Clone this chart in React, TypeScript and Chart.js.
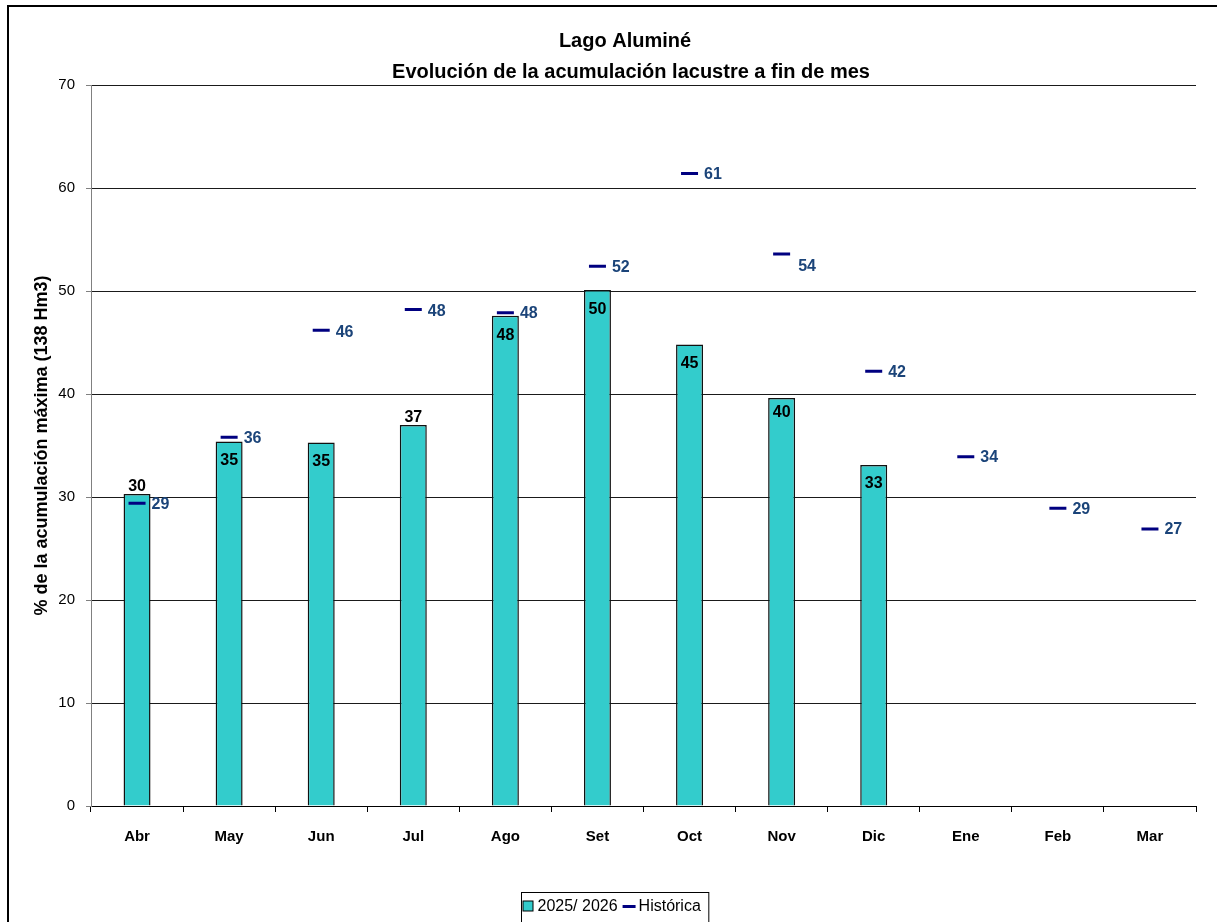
import React, { useEffect, useRef } from "react";
import { Chart, registerables } from "chart.js";

Chart.register(...registerables);

// ---- data ----
const categories = ["Abr", "May", "Jun", "Jul", "Ago", "Set", "Oct", "Nov", "Dic", "Ene", "Feb", "Mar"];
const actual2025 = [30.3, 35.4, 35.3, 37.0, 47.6, 50.1, 44.8, 39.6, 33.1, null, null, null];
const historica = [29.4, 35.8, 46.2, 48.2, 47.9, 52.4, 61.4, 53.6, 42.2, 33.9, 28.9, 26.9];
const yTicks = [0, 10, 20, 30, 40, 50, 60, 70];
const titleLines = ["Lago Aluminé", "Evolución de la acumulación lacustre a fin de mes"];
const yAxisTitle = "% de la acumulación máxima (138 Hm3)";
const seriesNames = ["2025/ 2026", "Histórica"];

// ---- label placement (styling) ----
const barLabelAbove = [true, false, false, true, false, false, false, false, false, false, false, false];
const barLabelInsideOffset = [19, 19, 19, 19, 20, 20, 19, 14, 19, 19, 19, 19];
const histLabelDx = [6, 6, 6, 6, 6, 6, 6, 8, 6, 6, 6, 6];
const histLabelDy = [1, 1, 2, 2, 1, 1, 1, 13, 1, 1, 1, 1];

const FONT = "'Liberation Sans', Arial, sans-serif";
const BAR_COLOR = "#33CCCC";
const HIST_COLOR = "#000080";
const HIST_LABEL_COLOR = "#1b4479";

const decorPlugin = {
  id: "decor",
  beforeDraw(chart: any) {
    const ctx = chart.ctx;
    ctx.save();
    ctx.fillStyle = "#ffffff";
    ctx.fillRect(0, 0, chart.width, chart.height);
    // outer frame (left + top visible)
    ctx.strokeStyle = "#000";
    ctx.lineWidth = 2;
    ctx.beginPath();
    ctx.moveTo(8, chart.height + 5);
    ctx.lineTo(8, 6);
    ctx.lineTo(chart.width + 5, 6);
    ctx.stroke();
    ctx.restore();
  },
  afterDatasetsDraw(chart: any) {
    const ctx = chart.ctx;
    ctx.save();
    // bar labels
    const barMeta = chart.getDatasetMeta(0);
    ctx.font = `bold 16px ${FONT}`;
    ctx.fillStyle = "#000";
    ctx.textAlign = "center";
    ctx.textBaseline = "middle";
    barMeta.data.forEach((el: any, i: number) => {
      const v = actual2025[i];
      if (v === null || v === undefined) return;
      const y = barLabelAbove[i] ? el.y - 7 : el.y + barLabelInsideOffset[i];
      ctx.fillText(String(Math.round(v)), el.x, y);
    });
    // historic labels
    const lineMeta = chart.getDatasetMeta(1);
    ctx.fillStyle = HIST_LABEL_COLOR;
    ctx.textAlign = "left";
    lineMeta.data.forEach((el: any, i: number) => {
      const v = historica[i];
      if (v === null || v === undefined) return;
      ctx.fillText(String(Math.round(v)), el.x + 8.5 + histLabelDx[i], el.y + histLabelDy[i]);
    });

    // title
    ctx.fillStyle = "#000";
    ctx.textAlign = "center";
    ctx.font = `bold 20px ${FONT}`;
    ctx.fillText(titleLines[0], 625, 41);
    ctx.fillText(titleLines[1], 631, 72);

    // legend
    ctx.font = `16px ${FONT}`;
    ctx.textAlign = "left";
    ctx.textBaseline = "middle";
    const lx = 521.5, ly = 892.5;
    const w1 = ctx.measureText(seriesNames[0]).width;
    const w2 = ctx.measureText(seriesNames[1]).width;
    const boxW = 16 + w1 + 5 + 16 + w2 + 8;
    ctx.strokeStyle = "#000";
    ctx.lineWidth = 1;
    ctx.strokeRect(lx, ly, boxW, 60);
    const cy = 906.5;
    ctx.fillStyle = BAR_COLOR;
    ctx.fillRect(lx + 1.5, cy - 5.5, 10, 10);
    ctx.strokeRect(lx + 1.5, cy - 5.5, 10, 10);
    ctx.fillStyle = "#000";
    let x = lx + 16;
    ctx.fillText(seriesNames[0], x, cy);
    x += w1 + 5;
    ctx.strokeStyle = HIST_COLOR;
    ctx.lineWidth = 3;
    ctx.beginPath();
    ctx.moveTo(x, cy);
    ctx.lineTo(x + 13, cy);
    ctx.stroke();
    x += 16;
    ctx.fillStyle = "#000";
    ctx.fillText(seriesNames[1], x, cy);
    ctx.restore();
  },
};

export default function App() {
  const ref = useRef<HTMLCanvasElement | null>(null);
  useEffect(() => {
    if (!ref.current) return;
    const chart = new Chart(ref.current, {
      type: "bar",
      data: {
        labels: categories,
        datasets: [
          {
            type: "bar",
            label: seriesNames[0],
            data: actual2025 as any,
            backgroundColor: BAR_COLOR,
            borderColor: "#111",
            borderWidth: 1.5,
            barPercentage: 0.293,
            categoryPercentage: 1,
            order: 2,
          },
          {
            type: "line",
            label: seriesNames[1],
            data: historica,
            showLine: false,
            pointStyle: "line",
            pointRadius: 8.5,
            pointBorderWidth: 3,
            pointBorderColor: HIST_COLOR,
            pointBackgroundColor: HIST_COLOR,
            borderColor: HIST_COLOR,
            order: 1,
          } as any,
        ],
      },
      plugins: [decorPlugin],
      options: {
        animation: false,
        responsive: false,
        maintainAspectRatio: false,
        devicePixelRatio: 1,
        layout: { padding: { top: 85, right: 21, bottom: 0, left: 0 } },
        plugins: {
          legend: { display: false },
          title: { display: false },
          tooltip: { enabled: false },
        },
        scales: {
          x: {
            type: "category",
            offset: true,
            grid: {
              offset: true,
              drawOnChartArea: false,
              drawTicks: true,
              tickLength: 6,
              color: "#000",
            },
            border: { color: "#000", width: 1 },
            ticks: {
              padding: 16,
              color: "#000",
              font: { family: FONT, size: 15, weight: "bold" },
              maxRotation: 0,
            },
            afterFit: (scale: any) => {
              scale.height = 116;
            },
          },
          y: {
            min: 0,
            max: 70,
            afterBuildTicks: (scale: any) => {
              scale.ticks = yTicks.map((v) => ({ value: v }));
            },
            grid: {
              color: "#1a1a1a",
              lineWidth: 1,
              drawTicks: true,
              tickLength: 5,
              tickColor: "#808080",
            },
            border: { color: "#808080", width: 1 },
            ticks: {
              padding: 11,
              color: "#000",
              font: { family: FONT, size: 15 },
            },
            title: {
              display: true,
              text: yAxisTitle,
              color: "#000",
              font: { family: FONT, size: 18, weight: "bold" },
              padding: { top: 31, bottom: 0 },
            },
            afterFit: (scale: any) => {
              scale.width = 91;
            },
          },
        },
      } as any,
    });
    return () => chart.destroy();
  }, []);
  return (
    <div style={{ position: "fixed", left: 0, top: 0, width: 1217, height: 922, background: "#fff" }}>
      <canvas ref={ref} width={1217} height={922} style={{ width: 1217, height: 922, display: "block" }} />
    </div>
  );
}
